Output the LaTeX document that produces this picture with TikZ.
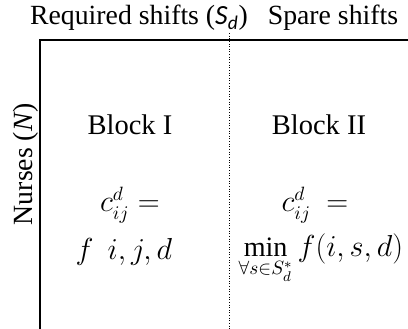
\documentclass[tikz,border=0pt]{standalone}
\usepackage{amsmath, amssymb}
\usepackage{fontspec}
\setmainfont{Liberation Serif}
\setsansfont{Carlito}
\usepackage{tikz}

\begin{document}
\begin{tikzpicture}[txt/.style={font=\fontsize{15.8}{18}\selectfont, inner sep=1pt},
    eqn/.style={font=\fontsize{16}{19}\selectfont, inner sep=1pt}]
  \useasboundingbox (0,0) rectangle (8.16,6.58);
  % Frame of the cost matrix
  \coordinate (tl) at (0.8,5.78);
  \coordinate (tr) at (8.16,5.78);
  \coordinate (bl) at (0.8,0);
  \coordinate (dtop) at (4.58,5.92);
  \coordinate (dbot) at (4.58,0);
  \draw[line width=1pt] (bl) -- (tl) -- (tr);
  \draw[densely dotted, line width=0.5pt] (dtop) -- (dbot);
  % Headings
  \node[txt] (req) at (2.78,6.22) {Required shifts (\textsf{\textit{S}\textsubscript{\textit{d}}})};
  \node[txt] (spare) at (6.66,6.22) {Spare shifts};
  \node[txt, rotate=90] (nurses) at (0.52,3.3) {Nurses (\textit{N})};
  % Blocks
  \node[txt, font=\fontsize{16.2}{19}\selectfont] (blk1) at (2.6,4.08) {Block I};
  \node[txt, font=\fontsize{16.2}{19}\selectfont] (blk2) at (6.38,4.08) {Block II};
  \node[eqn] (c1) at (2.6,2.48) {$c_{ij}^{d} =$};
  \node[eqn] (f1) at (2.48,1.54) {$f\ \ i, j, d$};
  \node[eqn] (c2) at (6.3,2.48) {$c_{ij}^{d}\ =$};
  \node[eqn] (f2) at (6.42,1.4) {$\min\limits_{\forall s\in S_{d}^{*}} f(i, s, d)$};
\end{tikzpicture}
\end{document}
